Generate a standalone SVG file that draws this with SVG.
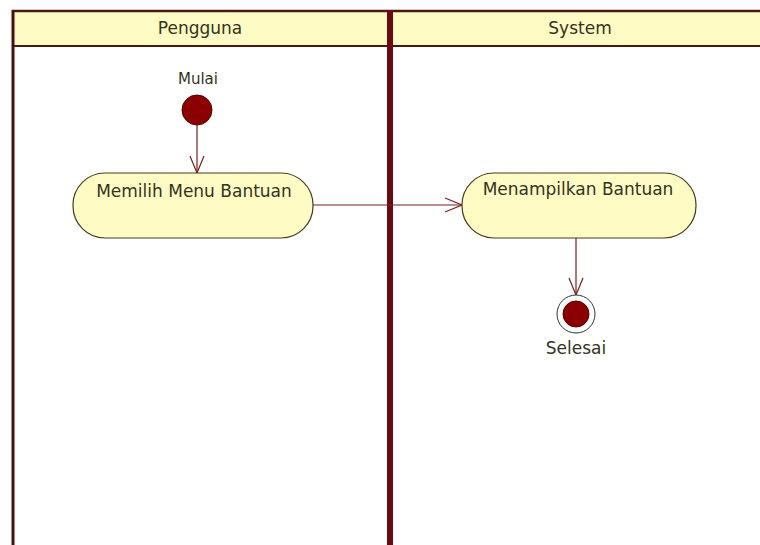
<svg xmlns="http://www.w3.org/2000/svg" width="760" height="545" viewBox="0 0 760 545">
  <style>
    .lbl { font-family: "DejaVu Sans", "Liberation Sans", sans-serif; font-size: 17px; fill: #333322; }
    .hdr { font-family: "DejaVu Sans", "Liberation Sans", sans-serif; font-size: 17px; fill: #333322; text-anchor: middle; }
    .action { fill: #fffbc4; stroke: #4a3a20; stroke-width: 1.2; }
    .flow { fill: none; stroke: #7a1e1e; stroke-width: 1.2; }
  </style>
  <defs>
    <marker id="open" viewBox="0 0 20 16" refX="19" refY="8" markerWidth="20" markerHeight="16" markerUnits="userSpaceOnUse" orient="auto">
      <path d="M2,1 L19,8 L2,15" fill="none" stroke="#7a1e1e" stroke-width="1.2"/>
    </marker>
  </defs>

  <rect width="760" height="545" fill="#ffffff"/>

  <!-- swimlane header band -->
  <g id="lanes">
    <rect x="13" y="11" width="760" height="35" fill="#fffbc4"/>
    <line x1="12" y1="11" x2="760" y2="11" stroke="#4a1810" stroke-width="2.5"/>
    <line x1="12" y1="46" x2="760" y2="46" stroke="#4a1810" stroke-width="2"/>
    <line x1="13" y1="10" x2="13" y2="545" stroke="#4a1010" stroke-width="3"/>
    <line x1="390" y1="10" x2="390" y2="545" stroke="#6a0a14" stroke-width="6"/>
    <text class="hdr" x="200" y="34">Pengguna</text>
    <text class="hdr" x="580" y="34">System</text>
  </g>

  <!-- connectors -->
  <g id="connectors">
    <line class="flow" x1="197" y1="125" x2="197" y2="173" marker-end="url(#open)"/>
    <line class="flow" x1="313" y1="205" x2="462" y2="205" marker-end="url(#open)"/>
    <line class="flow" x1="576" y1="238" x2="576" y2="295" marker-end="url(#open)"/>
  </g>

  <g id="start">
    <text class="lbl" x="198" y="84" text-anchor="middle" style="font-size:15px">Mulai</text>
    <circle cx="197" cy="110" r="15" fill="#8b0000" stroke="#5a0000" stroke-width="1"/>
  </g>

  <g id="memilih-menu-bantuan">
    <rect class="action" x="73" y="173" width="240" height="65" rx="32" ry="32"/>
    <text class="lbl" x="194" y="197" text-anchor="middle">Memilih Menu Bantuan</text>
  </g>

  <g id="menampilkan-bantuan">
    <rect class="action" x="462" y="173" width="234" height="65" rx="32" ry="32"/>
    <text class="lbl" x="578" y="195" text-anchor="middle">Menampilkan Bantuan</text>
  </g>

  <g id="end">
    <circle cx="576" cy="314" r="19" fill="#ffffff" stroke="#333333" stroke-width="1"/>
    <circle cx="576" cy="314" r="13" fill="#8b0000" stroke="#5a0000" stroke-width="1"/>
    <text class="lbl" x="576" y="354" text-anchor="middle">Selesai</text>
  </g>
</svg>
